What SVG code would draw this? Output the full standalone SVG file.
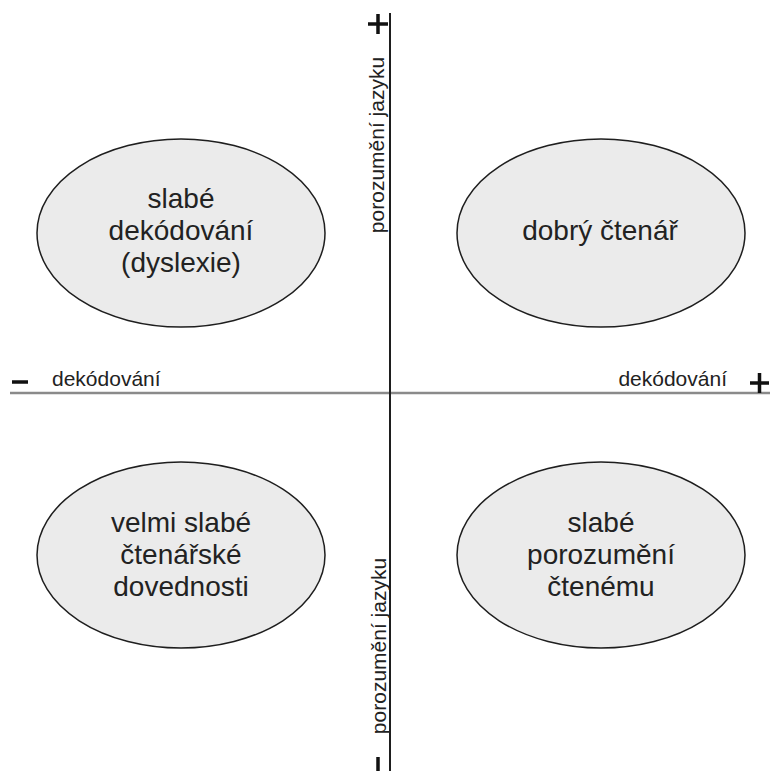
<svg xmlns="http://www.w3.org/2000/svg" width="770" height="771" viewBox="0 0 770 771">
<style>
.ell{fill:#ebebeb;stroke:#1e1e1e;stroke-width:1.5}
.t{font-family:"Liberation Sans",Arial,sans-serif;font-size:28px;fill:#222;text-anchor:middle}
.ax{font-family:"Liberation Sans",Arial,sans-serif;font-size:21px;fill:#222}
.sign{stroke:#111;stroke-width:3.5;fill:none}
</style>
<rect width="770" height="771" fill="#fff"/>
<g id="axes">
<line x1="10" y1="393" x2="770" y2="393" stroke="#8a8a8a" stroke-width="2.5"/>
<line x1="390" y1="13" x2="390" y2="771" stroke="#1e1e1e" stroke-width="2"/>
<path class="sign" d="M12 382H28"/>
<path class="sign" d="M750 383H769M759.5 373V393"/>
<path class="sign" d="M368 24H388M378 14V34"/>
<path class="sign" d="M378 757V771"/>
<text class="ax" x="52" y="386">dekódování</text>
<text class="ax" x="727" y="386" text-anchor="end">dekódování</text>
<text class="ax" transform="translate(384,145) rotate(-90)" text-anchor="middle">porozumění jazyku</text>
<text class="ax" transform="translate(386,646) rotate(-90)" text-anchor="middle">porozumění jazyku</text>
</g>
<g id="n1">
<ellipse class="ell" cx="181" cy="233" rx="144" ry="94"/>
<text class="t" x="181" y="208">slabé</text>
<text class="t" x="181" y="240">dekódování</text>
<text class="t" x="181" y="272">(dyslexie)</text>
</g>
<g id="n2">
<ellipse class="ell" cx="601" cy="233" rx="144" ry="94"/>
<text class="t" x="600" y="240">dobrý čtenář</text>
</g>
<g id="n3">
<ellipse class="ell" cx="181" cy="555" rx="144" ry="93"/>
<text class="t" x="181" y="532">velmi slabé</text>
<text class="t" x="181" y="564">čtenářské</text>
<text class="t" x="181" y="596">dovednosti</text>
</g>
<g id="n4">
<ellipse class="ell" cx="601" cy="555" rx="144" ry="93"/>
<text class="t" x="601" y="532">slabé</text>
<text class="t" x="601" y="564">porozumění</text>
<text class="t" x="601" y="596">čtenému</text>
</g>
</svg>
